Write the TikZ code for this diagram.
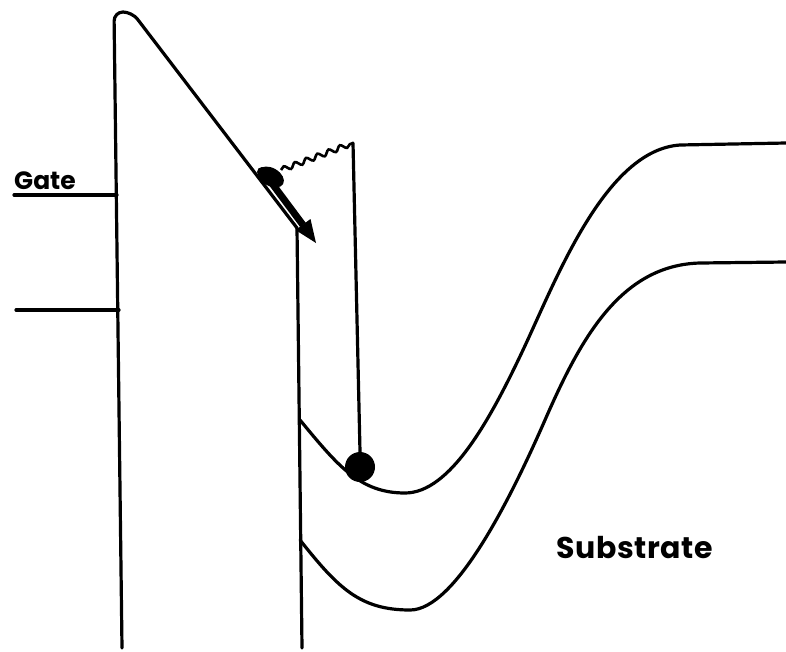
\documentclass[tikz,border=0pt]{standalone}
\usepackage{fontspec}
\setsansfont{Poppins}
\usetikzlibrary{decorations.pathmorphing}
\tikzset{
  band/.style={line width=3.2pt, line cap=round, line join=round},
  lbl/.style={font=\sffamily\bfseries\fontsize{25}{28}\selectfont, inner sep=0pt, anchor=south west},
}
\begin{document}
\begin{tikzpicture}[x=1pt,y=-1pt]
\useasboundingbox (0,0) rectangle (786,651);
% coordinates
\coordinate (obot) at (122,648);
\coordinate (otopl) at (114,12);
\coordinate (otopr) at (132,12);
\coordinate (ocorner) at (297,228);
\coordinate (sbot) at (302,648);
\coordinate (g1l) at (14,195);
\coordinate (g1r) at (117,195);
\coordinate (g2l) at (16,310);
\coordinate (g2r) at (119,310);
% oxide barrier
\draw[band, rounded corners=9pt] (obot) -- (otopl) -- (otopr) -- (ocorner);
\draw[band] (ocorner) -- (sbot);
% gate levels
\draw[band] (g1l) -- (g1r);
\draw[band] (g2l) -- (g2r);
\node[lbl] (gate) at (14,190) {Gate};
% conduction band
\coordinate (cb0) at (300,420);
\draw[band] (cb0) .. controls (338,466) and (360,493) .. (405,493)
  .. controls (450,493) and (490,420) .. (523,350)
  .. controls (556,280) and (605,150) .. (680,145) -- (786,143);
% valence band
\coordinate (vb0) at (300,540);
\draw[band] (vb0) .. controls (338,588) and (360,610) .. (410,610)
  .. controls (455,610) and (510,500) .. (545,420)
  .. controls (580,340) and (620,265) .. (700,263) -- (786,262);
\node[lbl, font=\sffamily\bfseries\fontsize{30}{32}\selectfont\addfontfeatures{LetterSpace=2}] (sub) at (556,559) {Substrate};
% electron
\coordinate (wtop) at (353,143);
\node[circle, fill=black, minimum size=30pt, inner sep=0pt] (el) at (360,467) {};
\draw[band] (wtop) -- (el.north);
% wavy path
\coordinate (wstart) at (281,170);
\draw[line width=2.6pt, decorate, decoration={snake, segment length=12pt, amplitude=2.5pt}] (wstart) -- (wtop);
% blob
\fill[rotate around={-30:(271,177)}] (271,177) ellipse (14pt and 9pt);
\fill (262,172) circle (5pt);
% hot electron arrow
\coordinate (ashaft) at (268,178);
\coordinate (abase) at (303,225);
\draw[line width=7pt] (ashaft) -- (abase);
\fill (316,243) -- (310.5,219) -- (295.5,230) -- cycle;
\end{tikzpicture}
\end{document}
